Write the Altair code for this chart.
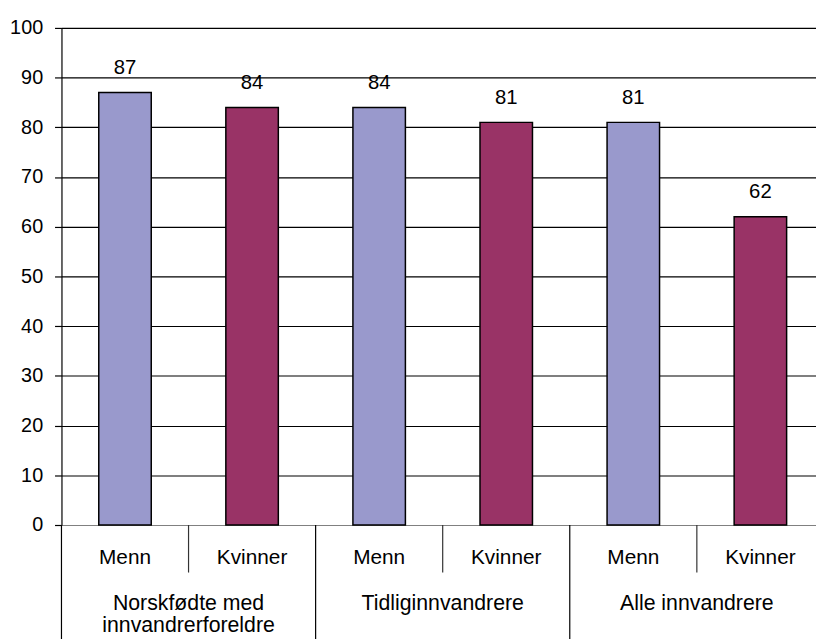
import altair as alt
import pandas as pd

groups = ["Norskfødte med\ninnvandrerforeldre", "Tidliginnvandrere", "Alle innvandrere"]
genders = ["Menn", "Kvinner", "Menn", "Kvinner", "Menn", "Kvinner"]
values = [87, 84, 84, 81, 81, 62]
slots = ["s0", "s1", "s2", "s3", "s4", "s5"]
colors = {"Menn": "#9999CC", "Kvinner": "#993366"}

df = pd.DataFrame({"slot": slots, "gender": genders, "value": values})
df_inner = pd.DataFrame({"slot": ["s1", "s3", "s5"]})
df_outer = pd.DataFrame({"slot": ["s0", "s2", "s4"]})
df_groups = pd.DataFrame({"slot": ["s1", "s3", "s5"], "group": groups})

W, H = 762, 502
FONT = "Liberation Sans"

xscale = alt.Scale(domain=slots, range=[0, 770], paddingInner=0, paddingOuter=0)
x_axis = alt.Axis(labels=False, ticks=False, domain=False, grid=False, title=None)

bars = alt.Chart(df).mark_bar(width=53, stroke="black", strokeWidth=1.5).encode(
    x=alt.X("slot:N", scale=xscale, axis=x_axis),
    y=alt.Y("value:Q", scale=alt.Scale(domain=[0, 100], nice=False),
            axis=alt.Axis(values=list(range(0, 101, 10)), title=None,
                          grid=True,
                          gridColor=alt.condition(alt.datum.value == 0, alt.value("#808080"), alt.value("black")),
                          gridOpacity=1, gridWidth=1.2,
                          domainColor="black", domainWidth=1.2,
                          tickColor="black", tickSize=7, tickWidth=1.2,
                          labelFont=FONT, labelFontSize=20, labelColor="black",
                          labelPadding=12)),
    color=alt.Color("gender:N", scale=alt.Scale(domain=list(colors.keys()), range=list(colors.values())), legend=None),
)

labels = alt.Chart(df).mark_text(font=FONT, fontSize=20.5, color="black", baseline="alphabetic", dy=-19).encode(
    x=alt.X("slot:N", scale=xscale, axis=x_axis),
    y=alt.Y("value:Q"),
    text=alt.Text("value:Q"),
)

cat_text = alt.Chart(df).mark_text(font=FONT, fontSize=21, color="black", baseline="alphabetic").encode(
    x=alt.X("slot:N", scale=xscale, axis=x_axis),
    y=alt.value(H + 39),
    text="gender:N",
)

inner_sep = alt.Chart(df_inner).mark_rule(color="#333333", strokeWidth=1.2).encode(
    x=alt.X("slot:N", scale=xscale, axis=x_axis, bandPosition=0),
    y=alt.value(H),
    y2=alt.value(H + 48),
)

outer_sep = alt.Chart(df_outer).mark_rule(color="black", strokeWidth=1.2).encode(
    x=alt.X("slot:N", scale=xscale, axis=x_axis, bandPosition=0),
    y=alt.value(H),
    y2=alt.value(H + 140),
)

group_text = alt.Chart(df_groups).mark_text(font=FONT, fontSize=21.5, color="black", baseline="alphabetic",
                                            lineBreak="\n", lineHeight=22).encode(
    x=alt.X("slot:N", scale=xscale, axis=x_axis, bandPosition=0),
    y=alt.value(H + 86),
    text="group:N",
)

chart = alt.layer(bars, labels, cat_text, inner_sep, outer_sep, group_text).properties(
    width=W, height=H,
    autosize=alt.AutoSizeParams(type="none"),
    padding={"left": 54, "top": 17, "right": 0, "bottom": 112},
    background="white",
).configure_view(stroke=None)

chart.save("out.html", embed_options={"renderer": "svg", "actions": False})
